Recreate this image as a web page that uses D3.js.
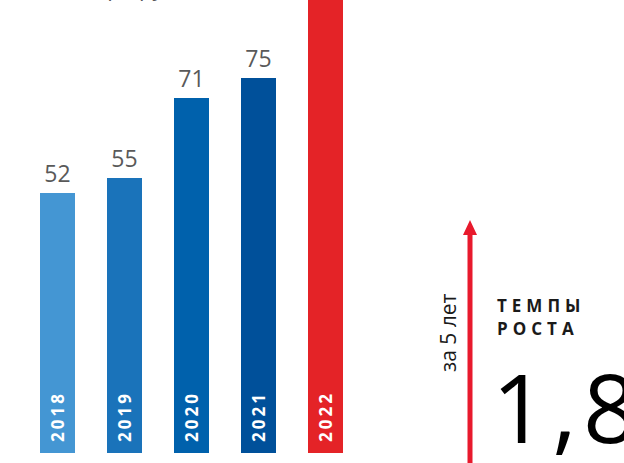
<!DOCTYPE html>
<html>
<head>
<meta charset="utf-8">
<script src="https://cdn.jsdelivr.net/npm/d3@7"></script>
<style>
  body { margin: 0; background: #fff; }
  svg { display: block; }
</style>
</head>
<body>
<svg id="chart" width="624" height="463"></svg>
<script>
// chart data
var years = ['2018', '2019', '2020', '2021', '2022'];
var values = [52, 55, 71, 75, 94];
var barColors = ['#4496d3', '#1a73ba', '#0061ac', '#00509a', '#e42327'];
var growthLabel = '1,8';

var width = 624, height = 463;
var svg = d3.select('#chart');
var font = "'Open Sans', 'DejaVu Sans', sans-serif";

var x = d3.scaleBand()
    .domain(years)
    .range([40, 343])
    .paddingInner(32 / 67)
    .paddingOuter(0);

// 5 px per unit, baseline at 453
var y = d3.scaleLinear()
    .domain([0, 100])
    .range([453, -47]);

// title, cut off at the top edge (only descenders show)
svg.append('text')
    .attr('x', 72)
    .attr('y', -4)
    .attr('font-family', font)
    .attr('font-size', 22)
    .attr('fill', '#595959')
    .text('(млрд руб.)');

var bars = svg.append('g')
    .selectAll('g')
    .data(years)
    .enter().append('g');

bars.append('rect')
    .attr('x', function (d) { return x(d); })
    .attr('y', function (d, i) { return y(values[i]); })
    .attr('width', x.bandwidth())
    .attr('height', function (d, i) { return y(0) - y(values[i]); })
    .attr('fill', function (d, i) { return barColors[i]; });

// value labels
bars.append('text')
    .attr('x', function (d) { return x(d) + x.bandwidth() / 2; })
    .attr('y', function (d, i) { return y(values[i]) - 11; })
    .attr('text-anchor', 'middle')
    .attr('font-family', font)
    .attr('font-size', 23)
    .attr('fill', '#595959')
    .text(function (d, i) { return values[i]; });

// year labels inside bars
bars.append('text')
    .attr('transform', function (d) {
        return 'translate(' + (x(d) + x.bandwidth() / 2 + 6) + ',442) rotate(-90)';
    })
    .attr('font-family', font)
    .attr('font-size', 17)
    .attr('font-weight', 'bold')
    .attr('letter-spacing', 3)
    .attr('fill', '#fff')
    .text(function (d) { return d; });

// growth arrow
var ax = 470;
svg.append('line')
    .attr('x1', ax).attr('x2', ax)
    .attr('y1', 233).attr('y2', height)
    .attr('stroke', '#e8192c')
    .attr('stroke-width', 5);

svg.append('path')
    .attr('d', 'M' + ax + ',220 L' + (ax + 7) + ',235 L' + (ax - 7) + ',235 Z')
    .attr('fill', '#e8192c');

svg.append('text')
    .attr('transform', 'translate(456,372) rotate(-90)')
    .attr('font-family', font)
    .attr('font-size', 21)
    .attr('fill', '#1a1a1a')
    .text('за 5 лет');

svg.append('text')
    .attr('x', 497).attr('y', 312)
    .attr('font-family', font)
    .attr('font-size', 17)
    .attr('font-weight', 'bold')
    .attr('letter-spacing', 5)
    .attr('fill', '#1a1a1a')
    .text('ТЕМПЫ');

svg.append('text')
    .attr('x', 497).attr('y', 335)
    .attr('font-family', font)
    .attr('font-size', 17)
    .attr('font-weight', 'bold')
    .attr('letter-spacing', 5)
    .attr('fill', '#1a1a1a')
    .text('РОСТА');

svg.append('text')
    .attr('x', 492).attr('y', 443)
    .attr('font-family', font)
    .attr('font-size', 95)
    .attr('letter-spacing', 6)
    .attr('fill', '#000')
    .text(growthLabel);
</script>
</body>
</html>
